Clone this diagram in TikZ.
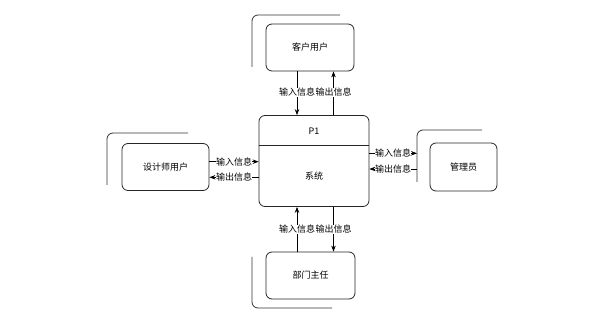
\documentclass[tikz,border=0pt]{standalone}
\usepackage{fontspec}
\setmainfont{Noto Sans CJK SC}
\usetikzlibrary{arrows.meta,calc}
\begin{document}
\begin{tikzpicture}[x=1pt,y=-1pt,
  every node/.style={font=\fontsize{9}{10}\selectfont},
  entity/.style={draw=black!85,line width=0.8pt,rounded corners=6pt,fill=white,inner sep=0pt},
  bracketline/.style={draw=black!80,line width=0.8pt,rounded corners=6pt},
  arr/.style={draw=black,line width=0.7pt,-{Stealth[length=6pt,width=4.5pt]}},
  lbl/.style={fill=white,inner sep=0.2pt}]
\useasboundingbox (0,0) rectangle (603,336);
% brackets
\draw[bracketline] (252,67) -- (252,15) -- (340,15);
\draw[bracketline] (107,185) -- (107,133) -- (188,133);
\draw[bracketline] (417,182) -- (417,130) -- (482,130);
\draw[bracketline] (252,257) -- (252,308) -- (332,308);
% entities
\node[entity,minimum width=88pt,minimum height=47pt] (kh) at (310,47.5) {客户用户};
\node[entity,minimum width=87pt,minimum height=47pt] (sj) at (165.5,167) {设计师用户};
\node[entity,minimum width=67pt,minimum height=48pt] (gl) at (463.5,167) {管理员};
\node[entity,minimum width=89pt,minimum height=47pt] (bm) at (310.5,275.5) {部门主任};
% process
\node[entity,minimum width=110pt,minimum height=91pt] (p1) at (314,161) {};
\coordinate (div) at (314,145);
\draw[black!85,line width=0.8pt] (div -| p1.west) -- (div -| p1.east);
\node (p1t) at (314,131) {P1};
\node (p1s) at (314,176) {系统};
% guide coordinates
\coordinate (xa) at (297,0);
\coordinate (xb) at (333.5,0);
\coordinate (ya) at (0,161.7);
\coordinate (yb) at (0,177.3);
\coordinate (yc) at (0,153.3);
\coordinate (yd) at (0,169);
\coordinate (rbr) at (417,0);
% top connectors
\draw[arr] (kh.south -| xa) -- node[lbl,pos=0.48]{输入信息} (p1.north -| xa);
\draw[arr] (p1.north -| xb) -- node[lbl,pos=0.52]{输出信息} (kh.south -| xb);
% left connectors
\draw[arr] (sj.east |- ya) -- node[lbl]{输入信息} (p1.west |- ya);
\draw[arr] (p1.west |- yb) -- node[lbl]{输出信息} (sj.east |- yb);
% right connectors
\draw[arr] (p1.east |- yc) -- node[lbl]{输入信息} (rbr |- yc);
\draw[arr] (rbr |- yd) -- node[lbl]{输出信息} (p1.east |- yd);
% bottom connectors
\draw[arr] (bm.north -| xa) -- node[lbl,pos=0.5]{输入信息} (p1.south -| xa);
\draw[arr] (p1.south -| xb) -- node[lbl,pos=0.5]{输出信息} (bm.north -| xb);
\end{tikzpicture}
\end{document}
